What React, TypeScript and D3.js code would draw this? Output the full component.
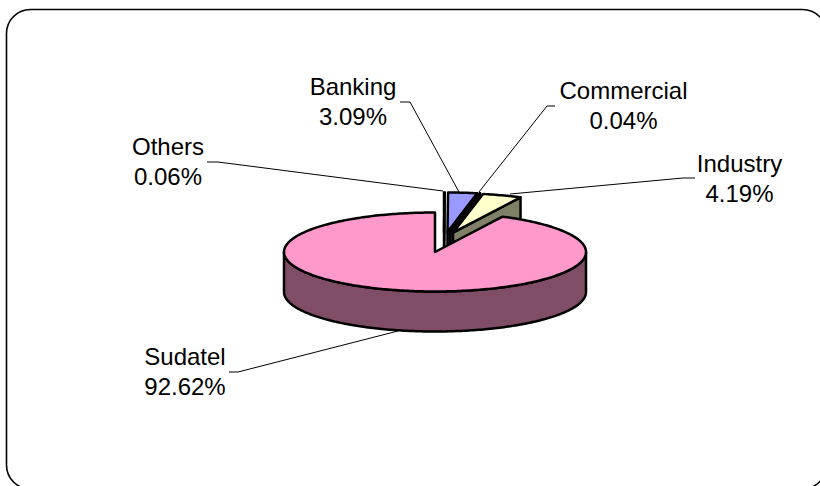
import React from "react";
import * as d3 from "d3";

const categories = ["Others", "Banking", "Commercial", "Industry", "Sudatel"];
const shares = [0.06, 3.09, 0.04, 4.19, 92.62];
const topColors = ["#FFFFFF", "#9999FF", "#993366", "#FFFFCC", "#FF99CC"];
const sideColors = ["#808080", "#4D4D80", "#4D1A33", "#808066", "#804D66"];
const explodeX = [9, 12.5, 15, 18, 0];
const explodeY = [-20, -20, -20, -19.3, 0];
const labelX = [168, 353, 623.5, 739.5, 185];
const labelY = [155, 95, 99, 172, 365];
const leaderX = [[207, 218, 443], [400, 410, 459], [555, 547, 479], [695, 683, 510], [229, 238, 398]];
const leaderY = [[162, 162, 191], [102, 102, 192], [106, 106, 192], [178, 178, 194], [372, 372, 331]];

const W = 820, H = 486, CX = 435, CY = 252, RX = 151, RY = 39.5, DEPTH = 40;

export default function App() {
  const arcs = d3.pie<number>().sort(null).value((d) => d)(shares);
  const px = (a: number, ox: number) => CX + ox + RX * Math.sin(a);
  const py = (a: number, oy: number) => CY + oy - RY * Math.cos(a);
  const arcPts = (a0: number, a1: number, ox: number, oy: number, dy = 0) => {
    const n = Math.max(2, Math.ceil((a1 - a0) * 60));
    return d3.range(n + 1).map((i) => {
      const a = a0 + ((a1 - a0) * i) / n;
      return [px(a, ox), py(a, oy) + dy] as [number, number];
    });
  };
  const line = d3.line();
  return (
    <svg width={W} height={H} style={{ position: "absolute", left: 0, top: 0, background: "#fff" }}>
      <rect x={6.5} y={9.5} width={820} height={479.5} rx={24} ry={24} fill="#fff" stroke="#000" strokeWidth={1.6} />
      {arcs.map((s, i) => {
        const ox = explodeX[i], oy = explodeY[i];
        const apex: [number, number] = [CX + ox, CY + oy];
        const top = [apex, ...arcPts(s.startAngle, s.endAngle, ox, oy)];
        const tip = top[top.length - 1];
        const wall: [number, number][] =
          i === 4
            ? [
                ...arcPts(Math.PI / 2, (3 * Math.PI) / 2, ox, oy),
                ...arcPts(Math.PI / 2, (3 * Math.PI) / 2, ox, oy, DEPTH).reverse(),
              ]
            : [apex, tip, [tip[0], tip[1] + DEPTH], [apex[0], apex[1] + DEPTH]];
        return (
          <g key={categories[i]} stroke="#000" strokeWidth={2.5} strokeLinejoin="round">
            <path d={line(wall)! + "Z"} fill={sideColors[i]} />
            <path d={line(top)! + "Z"} fill={topColors[i]} />
          </g>
        );
      })}
      {categories.map((c, i) => (
        <path
          key={c}
          d={line(leaderX[i].map((x, k) => [x, leaderY[i][k]] as [number, number]))!}
          fill="none"
          stroke="#000"
          strokeWidth={1}
        />
      ))}
      {categories.map((c, i) => (
        <text key={c} x={labelX[i]} y={labelY[i]} textAnchor="middle" fontFamily="'Liberation Sans', Arial, sans-serif" fontSize={24} fill="#000">
          <tspan x={labelX[i]}>{c}</tspan>
          <tspan x={labelX[i]} dy={30}>{shares[i].toFixed(2)}%</tspan>
        </text>
      ))}
    </svg>
  );
}
